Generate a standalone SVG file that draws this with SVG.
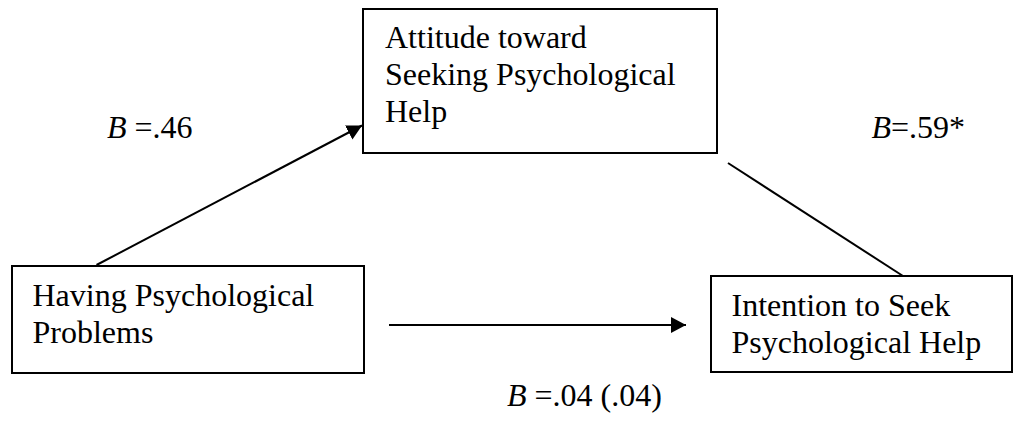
<svg xmlns="http://www.w3.org/2000/svg" width="1014" height="421" viewBox="0 0 1014 421">
<style>
.box{fill:#fff;stroke:#000;stroke-width:2}
.t{font-family:"Liberation Serif","Times New Roman",serif;font-size:32px;fill:#000}
.i{font-style:italic}
.c{stroke:#000;stroke-width:2;fill:none}
</style>
<defs>
<marker id="ah" markerUnits="userSpaceOnUse" markerWidth="16" markerHeight="16" refX="15" refY="8" orient="auto">
<path d="M0,0 L15,8 L0,16 z" fill="#000"/>
</marker>
</defs>
<rect width="1014" height="421" fill="#fff"/>
<g id="connectors">
<line class="c" x1="96.5" y1="265" x2="362" y2="125.5" marker-end="url(#ah)"/>
<line class="c" x1="728" y1="163" x2="903" y2="276"/>
<line class="c" x1="389" y1="325" x2="686" y2="325" marker-end="url(#ah)"/>
</g>
<g id="attitude">
<rect class="box" x="363" y="9" width="354" height="144"/>
<text class="t" x="385" y="48">Attitude toward</text>
<text class="t" x="385" y="85">Seeking Psychological</text>
<text class="t" x="385" y="122">Help</text>
</g>
<g id="having">
<rect class="box" x="12" y="266" width="352" height="107"/>
<text class="t" x="32.5" y="306">Having Psychological</text>
<text class="t" x="32.5" y="342.5">Problems</text>
</g>
<g id="intention">
<rect class="box" x="711" y="276" width="301" height="96"/>
<text class="t" x="731.5" y="316">Intention to Seek</text>
<text class="t" x="731.5" y="352.5">Psychological Help</text>
</g>
<g id="labels">
<text class="t" x="107" y="137.5"><tspan class="i">B</tspan> =.46</text>
<text class="t" x="871.5" y="137.5"><tspan class="i">B</tspan>=.59*</text>
<text class="t" x="507" y="406"><tspan class="i">B</tspan> =.04 (.04)</text>
</g>
</svg>
